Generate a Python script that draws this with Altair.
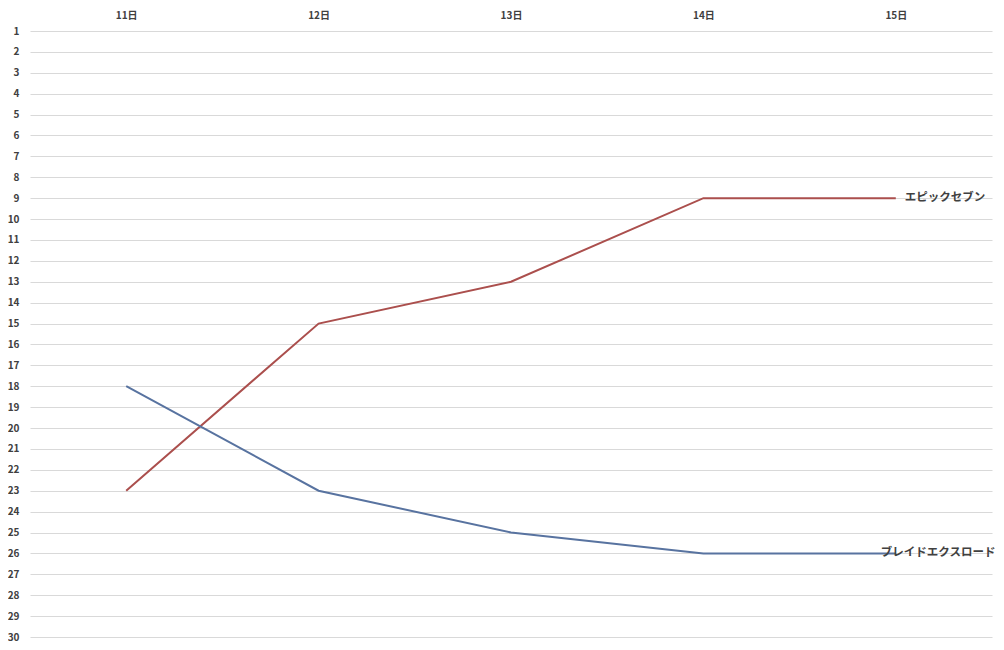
import altair as alt
import pandas as pd

days = ["11日", "12日", "13日", "14日", "15日"]
series_names = ["エピックセブン", "ブレイドエクスロード"]
epic_seven = [23, 15, 13, 9, 9]
blade_xlord = [18, 23, 25, 26, 26]
colors = ["#ab4f4d", "#5873a0"]
rank_ticks = list(range(1, 31))

rows = []
for name, vals in zip(series_names, [epic_seven, blade_xlord]):
    for d, v in zip(days, vals):
        rows.append({"day": d, "rank": v, "series": name})
df = pd.DataFrame(rows)

x = alt.X("day:N", sort=days,
          scale=alt.Scale(type="point", padding=0.5),
          axis=alt.Axis(orient="top", title=None, labelAngle=0, domain=False,
                        ticks=False, tickSize=0, grid=False, labelPadding=11,
                        labelFont="Noto Sans CJK JP", labelFontSize=10,
                        labelColor="#404040", labelFontWeight="bold"))
y = alt.Y("rank:Q",
          scale=alt.Scale(domain=[1, 30], reverse=True, nice=False, zero=False),
          axis=alt.Axis(title=None, values=rank_ticks, tickCount=30, domain=False,
                        ticks=False, tickSize=0, grid=True, gridColor="#d9d9d9",
                        gridWidth=1, labelPadding=11, labelOverlap=False,
                        labelFont="Noto Sans CJK JP", labelFontSize=10,
                        labelColor="#404040", labelFontWeight="bold"))
color = alt.Color("series:N", scale=alt.Scale(domain=series_names, range=colors), legend=None)

lines = alt.Chart(df).mark_line(strokeWidth=2).encode(x=x, y=y, color=color, detail="series:N")

last = df[df["day"] == days[-1]]
lab1 = alt.Chart(last[last["series"] == series_names[0]]).mark_text(
    align="left", baseline="middle", dx=9, fontSize=11.5,
    font="Noto Sans CJK JP", color="#404040", fontWeight="bold"
).encode(x=x, y=y, text="series:N")
lab2 = alt.Chart(last[last["series"] == series_names[1]]).mark_text(
    align="left", baseline="middle", dx=-15, fontSize=11.5,
    font="Noto Sans CJK JP", color="#404040", fontWeight="bold"
).encode(x=x, y=y, text="series:N")

chart = alt.layer(lines, lab1, lab2).properties(
    width=962, height=606,
    background="white",
    autosize=alt.AutoSizeParams(type="none"),
    padding={"left": 22, "top": 23, "right": 4, "bottom": 5},
).configure_view(stroke=None, strokeWidth=0)

chart.save("out.html", embed_options={"renderer": "svg", "actions": False})
